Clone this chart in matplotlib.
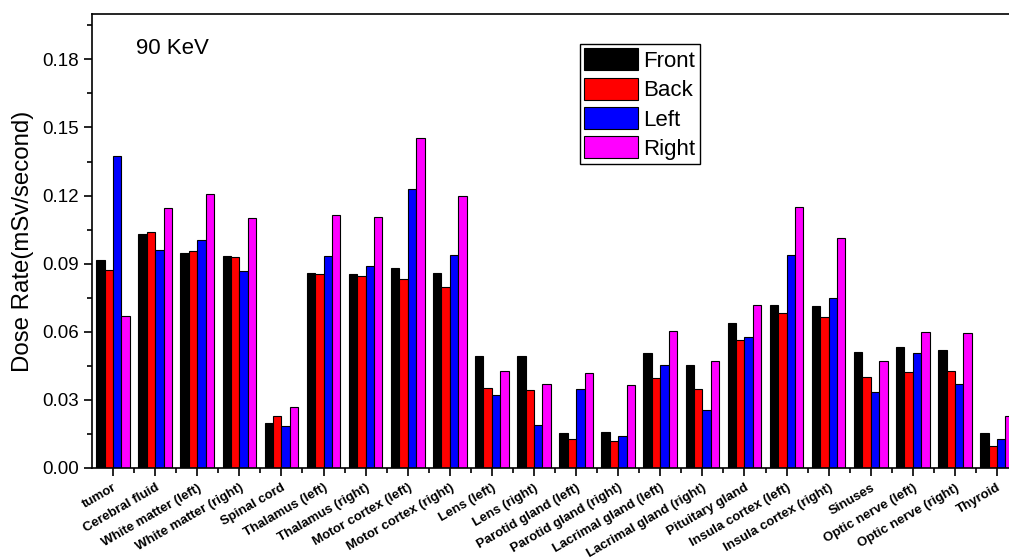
import numpy as np
import matplotlib
matplotlib.use("Agg")
import matplotlib.pyplot as plt
from matplotlib.ticker import MultipleLocator

plt.rcParams['font.family'] = ['Liberation Sans', 'DejaVu Sans']

organs = ["tumor", "Cerebral fluid", "White matter (left)", "White matter (right)",
          "Spinal cord", "Thalamus (left)", "Thalamus (right)", "Motor cortex (left)",
          "Motor cortex (right)", "Lens (left)", "Lens (right)", "Parotid gland (left)",
          "Parotid gland (right)", "Lacrimal gland (left)", "Lacrimal gland (right)",
          "Pituitary gland", "Insula cortex (left)", "Insula cortex (right)", "Sinuses",
          "Optic nerve (left)", "Optic nerve (right)", "Thyroid"]

front = [0.0916, 0.1031, 0.0948, 0.0936, 0.0200, 0.0858, 0.0853, 0.0879, 0.0858, 0.0492, 0.0492,
         0.0153, 0.0159, 0.0506, 0.0453, 0.0639, 0.0717, 0.0713, 0.0512, 0.0535, 0.0519, 0.0153]
back = [0.0870, 0.1038, 0.0957, 0.0929, 0.0228, 0.0854, 0.0847, 0.0831, 0.0797, 0.0354, 0.0342,
        0.0128, 0.0119, 0.0397, 0.0347, 0.0562, 0.0684, 0.0663, 0.0403, 0.0425, 0.0429, 0.0098]
left = [0.1376, 0.0961, 0.1004, 0.0869, 0.0184, 0.0936, 0.0888, 0.1230, 0.0938, 0.0320, 0.0190,
        0.0347, 0.0140, 0.0454, 0.0257, 0.0579, 0.0939, 0.0750, 0.0335, 0.0507, 0.0372, 0.0129]
right = [0.0669, 0.1147, 0.1205, 0.1101, 0.0270, 0.1113, 0.1105, 0.1455, 0.1200, 0.0429, 0.0372,
         0.0419, 0.0366, 0.0604, 0.0472, 0.0717, 0.1151, 0.1014, 0.0472, 0.0597, 0.0595, 0.0228]

series = [("Front", front, "black"), ("Back", back, "red"),
          ("Left", left, "blue"), ("Right", right, "magenta")]

x = np.arange(1, len(organs) + 1)
w = 0.2

fig = plt.figure(figsize=(10.09, 5.57), dpi=100)
ax = fig.add_axes([0.0912, 0.1598, 0.9178, 0.8151])

for i, (name, vals, col) in enumerate(series):
    ax.bar(x + (i - 1.5) * w, vals, width=w, color=col, edgecolor="black",
           linewidth=0.8, label=name)

ax.set_xlim(0.5, 22.5)
ax.set_ylim(0, 0.2)
ax.yaxis.set_minor_locator(MultipleLocator(0.015))
ax.set_yticks([0, 0.03, 0.06, 0.09, 0.12, 0.15, 0.18])
ax.set_yticklabels(["0.00", "0.03", "0.06", "0.09", "0.12", "0.15", "0.18"], fontsize=13.5)
ax.set_xticks(x)
ax.set_xticks(x[:-1] + 0.5, minor=True)
ax.set_xticklabels(organs, rotation=30, ha="right", rotation_mode="anchor",
                   fontsize=9.5, fontweight="bold")
ax.tick_params(axis="both", which="major", direction="out", length=6, width=1.2)
ax.tick_params(axis="both", which="minor", direction="out", length=3.5, width=1.2)
ax.tick_params(axis="x", which="major", pad=4)
for s in ["left", "bottom", "top"]:
    ax.spines[s].set_linewidth(1.2)
ax.spines["right"].set_visible(False)

ax.set_ylabel("Dose Rate(mSv/second)", fontsize=17.3, labelpad=6)
ax.text(0.047, 0.925, "90 KeV", transform=ax.transAxes, fontsize=16, va="center")

leg = ax.legend(loc="upper left", bbox_to_anchor=(0.527, 0.934), borderaxespad=0,
                fontsize=16, fancybox=False, edgecolor="black", framealpha=1,
                handlelength=2.4, handleheight=1.15, handletextpad=0.25,
                labelspacing=0.26, borderpad=0.2)
leg.get_frame().set_linewidth(1.0)

fig.savefig("out.png", dpi=100)
